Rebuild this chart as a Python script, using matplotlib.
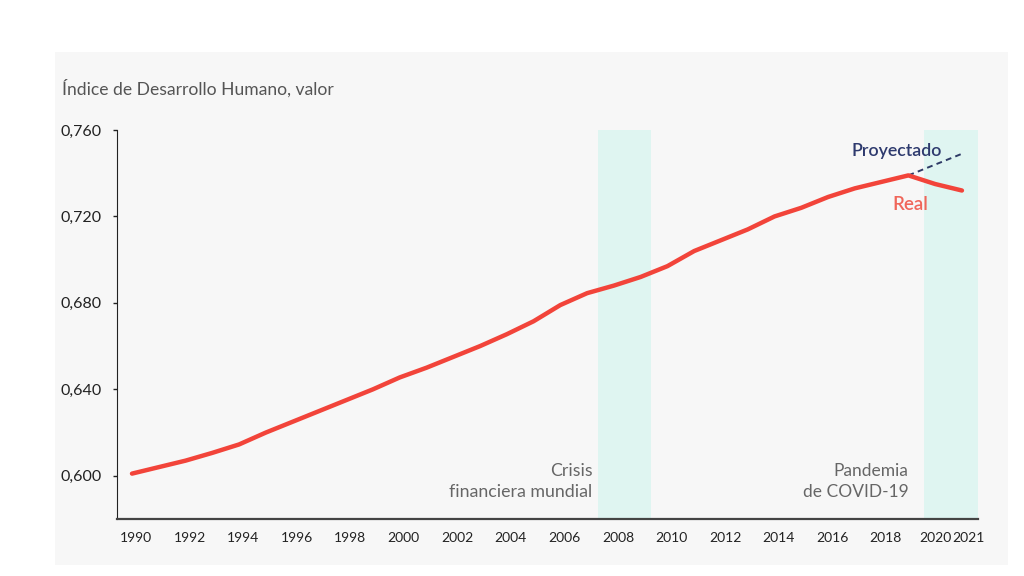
import matplotlib.pyplot as plt
import matplotlib.transforms as mtransforms
from matplotlib.patches import Rectangle
from matplotlib.ticker import FuncFormatter

# --- Data ---
years = list(range(1990, 2022))
idh_real = [0.601, 0.604, 0.607, 0.6106, 0.6145, 0.620, 0.625, 0.630, 0.635, 0.640,
            0.6455, 0.650, 0.655, 0.660, 0.6655, 0.6715, 0.679, 0.6845, 0.688, 0.692,
            0.697, 0.704, 0.709, 0.714, 0.720, 0.724, 0.729, 0.733, 0.736, 0.739,
            0.735, 0.732]
proj_years = [2019, 2020, 2021]
idh_proj = [0.739, 0.744, 0.749]

crisis_span = (2007.4, 2009.4)
covid_span = (2019.6, 2021.6)

xtick_years = list(range(1990, 2019, 2)) + [2020, 2021]
yticks = [0.600, 0.640, 0.680, 0.720, 0.760]

plt.rcParams['font.family'] = ['Lato', 'DejaVu Sans']

# --- Figure & panel ---
fig = plt.figure(figsize=(10.24, 5.76), dpi=100)
fig.patch.set_facecolor('white')
panel = Rectangle((55 / 1024, 1 - 565 / 576), (1008 - 55) / 1024, (565 - 52) / 576,
                  transform=fig.transFigure, facecolor='#f7f7f7',
                  edgecolor='none', zorder=-10)
fig.patches.append(panel)

ax = fig.add_axes([117 / 1024, 57 / 576, (978 - 117) / 1024, (519 - 130) / 576])
ax.set_facecolor('none')

# --- Shaded periods ---
for start, end in (crisis_span, covid_span):
    ax.axvspan(start, end, color='#dff5f1', lw=0, zorder=1)

# --- Lines ---
ax.plot(proj_years, idh_proj, color='#2e3a66', lw=1.4, ls=(0, (3, 2.2)), zorder=2)
ax.plot(years, idh_real, color='#f2443a', lw=3.2, solid_capstyle='round',
        solid_joinstyle='round', zorder=3)

ax.set_xlim(1989.44, 2021.6)
ax.set_ylim(0.58, 0.76)

# --- Axes style ---
for side in ('top', 'right'):
    ax.spines[side].set_visible(False)
ax.spines['left'].set_color('#222222')
ax.spines['bottom'].set_color('#444444')
ax.spines['bottom'].set_linewidth(1.6)

ax.set_yticks(yticks)
ax.yaxis.set_major_formatter(FuncFormatter(lambda v, p: f'{v:.3f}'.replace('.', ',')))
ax.set_xticks(xtick_years)
ax.set_xticklabels([str(y) for y in xtick_years])
ax.tick_params(axis='y', length=3, width=1, colors='#222222', labelsize=11.5, pad=8)
ax.tick_params(axis='x', length=0, colors='#222222', labelsize=10, pad=9)

# nudge x labels like the original (last two pushed apart a bit)
labels = ax.get_xticklabels()
for i, lab in enumerate(labels):
    dx = 4
    if xtick_years[i] == 2020:
        dx = 0
    elif xtick_years[i] == 2021:
        dx = 7
    lab.set_transform(lab.get_transform() +
                      mtransforms.ScaledTranslation(dx / 100, 0, fig.dpi_scale_trans))

# --- Texts ---
fig.text(62 / 1024, 1 - 88 / 576, 'Índice de Desarrollo Humano, valor',
         fontsize=12.6, color='#555555', va='center', ha='left')

ax.text(2007.2, 0.5975, 'Crisis\nfinanciera mundial', ha='right', va='center',
        fontsize=12.8, color='#666666', linespacing=1.4)
ax.text(2019.0, 0.5975, 'Pandemia\nde COVID-19', ha='right', va='center',
        fontsize=12.5, color='#666666', linespacing=1.4)
ax.text(2020.25, 0.7505, 'Proyectado', ha='right', va='center',
        fontsize=12.8, color='#2e3a6e', fontweight='semibold')
ax.text(2019.75, 0.7255, 'Real', ha='right', va='center',
        fontsize=13.5, color='#f0665a', fontweight='semibold')

fig.savefig('out.png', dpi=100)
